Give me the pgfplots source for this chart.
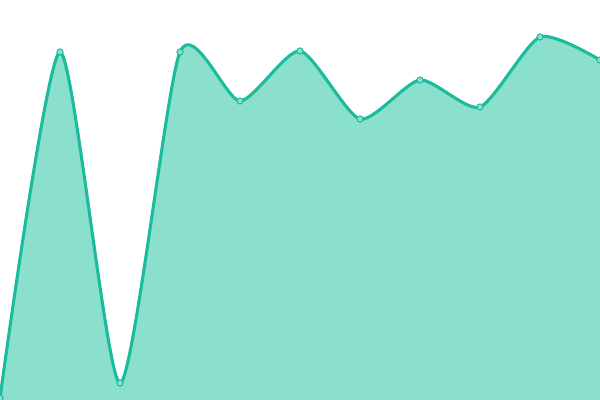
\documentclass[border=0pt]{standalone}
\usepackage{pgfplots}
\pgfplotsset{compat=1.18}
\definecolor{teal}{HTML}{1ABC9C}
\definecolor{tealfill}{HTML}{8ADFCD}
\begin{document}
\begin{tikzpicture}
\begin{axis}[
    width=15cm, height=10cm,
    scale only axis,
    hide axis,
    xmin=0, xmax=600,
    ymin=0, ymax=400,
    clip marker paths=true,
]
% values in pixel heights above the bottom edge
\addplot[draw=none, fill=tealfill, smooth, tension=0.4] coordinates {
    (0,2) (60,348) (120,17) (180,348) (240,299) (300,349)
    (360,281) (420,320) (480,293) (540,363) (600,340)
} \closedcycle;
\addplot[teal, line width=2.2pt, smooth, tension=0.4,
    mark=*, mark size=2.2pt,
    mark options={fill=tealfill, draw=teal, line width=0.7pt}] coordinates {
    (0,2) (60,348) (120,17) (180,348) (240,299) (300,349)
    (360,281) (420,320) (480,293) (540,363) (600,340)
};
\end{axis}
\pgfresetboundingbox
\path[use as bounding box] (current axis.south west) rectangle (current axis.north east);
\end{tikzpicture}
\end{document}
